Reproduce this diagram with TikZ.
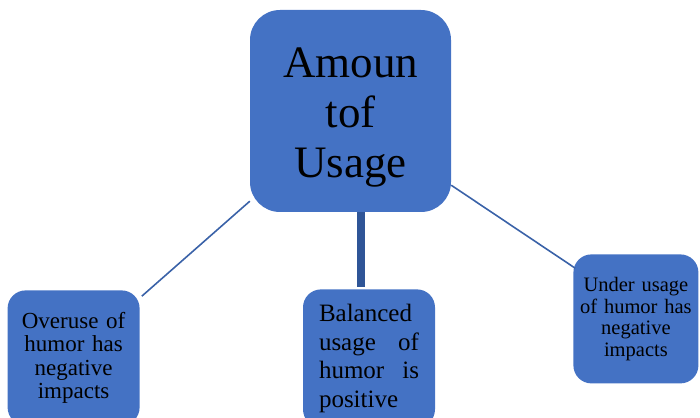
\documentclass[tikz,border=0pt]{standalone}
\usepackage{fontspec}
\setmainfont{Liberation Serif}
\usetikzlibrary{positioning}
\definecolor{boxblue}{HTML}{4472C4}
\definecolor{lineblue}{HTML}{3A62A8}
\definecolor{barblue}{HTML}{2F5597}

\begin{document}
\begin{tikzpicture}[x=1pt,y=1pt]
		\tikzstyle{main}=[rectangle, rounded corners=30pt, fill=boxblue, text=black, inner sep=0pt]
		\tikzstyle{leaf}=[rectangle, rounded corners=18pt, fill=boxblue, text=black, inner sep=0pt]
		\tikzstyle{connect}=[lineblue, line width=1.6pt]
		\useasboundingbox (0,0) rectangle (700,417);
		\node[main, minimum width=201pt, minimum height=202pt] (amount) at (350.5,306) {};
		\node[align=center, font=\fontsize{45}{50}\selectfont] (amounttext) [below=7pt of amount.center, anchor=center] {Amoun\\tof\\Usage};
		
		\node[leaf, minimum width=132pt, minimum height=135pt, text width=132pt, align=center, font=\fontsize{23}{23.5}\selectfont] (overuse) [below left=78pt and 110pt of amount] {Overuse of\\humor has\\negative\\impacts};
		\node[leaf, minimum width=132pt, minimum height=138pt, text width=132pt, align=center, font=\fontsize{25}{28.5}\selectfont] (balanced) [below=77pt of amount, xshift=18.5pt] {\parbox{100pt}{Balanced\\usage\hfill of\\humor\hfill is\\positive}};
		\node[leaf, minimum width=125pt, minimum height=129pt, text width=125pt, align=center, font=\fontsize{20.5}{21.5}\selectfont] (underuse) [below right=42pt and 122pt of amount] {Under usage\\of humor has\\negative\\impacts};
		
		\draw[connect] ([yshift=11pt]amount.south west) -- ([xshift=2pt,yshift=-6pt]overuse.north east);
		\draw[barblue, line width=8pt] ([xshift=10.5pt]amount.south) -- ([xshift=-8pt,yshift=2pt]balanced.north);
		\draw[connect] ([yshift=27pt]amount.south east) -- ([xshift=2pt,yshift=-14pt]underuse.north west);
	\end{tikzpicture}
\end{document}
